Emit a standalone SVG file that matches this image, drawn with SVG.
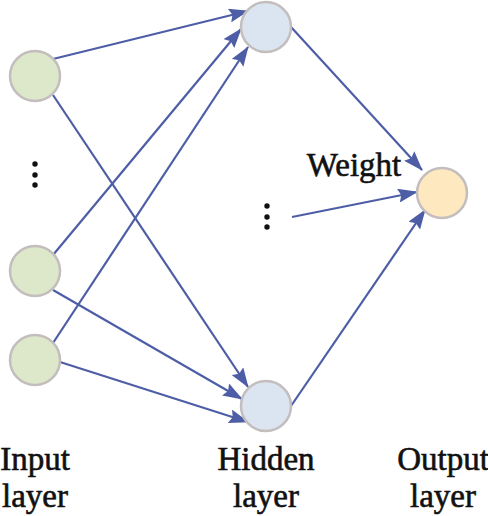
<svg xmlns="http://www.w3.org/2000/svg" width="488" height="516" viewBox="0 0 488 516">
<style>
.node{stroke:#c3bebd;stroke-width:2.5}
.in{fill:#dde8cb}
.hid{fill:#dbe5f1}
.out{fill:#fde8c0}
.edge{stroke:#4e5ea6;stroke-width:2.2;fill:none;marker-end:url(#ah)}
.lbl{font-family:"Liberation Serif","Times New Roman",serif;font-size:33px;fill:#111;stroke:#111;stroke-width:0.6}
.dot{fill:#111}
</style>
<defs>
<marker id="ah" viewBox="0 0 20 14" refX="19" refY="7" markerWidth="20" markerHeight="14" markerUnits="userSpaceOnUse" orient="auto">
<path d="M0,0 L20,7 L0,14 L3,7 Z" fill="#4e5ea6"/>
</marker>
</defs>
<rect width="488" height="516" fill="#fff"/>
<g id="connectors">
<line class="edge" x1="53" y1="59" x2="248" y2="11"/>
<line class="edge" x1="53" y1="95" x2="248" y2="387"/>
<line class="edge" x1="53" y1="255" x2="241" y2="29"/>
<line class="edge" x1="53" y1="343" x2="248" y2="47"/>
<line class="edge" x1="53" y1="290" x2="242" y2="399"/>
<line class="edge" x1="60" y1="362" x2="248" y2="422"/>
<line class="edge" x1="291" y1="27" x2="422" y2="170"/>
<line class="edge" x1="292" y1="217" x2="417" y2="192"/>
<line class="edge" x1="291" y1="406" x2="425" y2="210"/>
</g>
<g id="input1"><circle class="node in" cx="35" cy="76" r="25"/></g>
<g id="input2"><circle class="node in" cx="35" cy="271" r="25"/></g>
<g id="input3"><circle class="node in" cx="35" cy="360" r="25"/></g>
<g id="input-dots"><circle class="dot" cx="35" cy="164" r="2.7"/><circle class="dot" cx="35" cy="175" r="2.7"/><circle class="dot" cx="35" cy="185" r="2.7"/></g>
<g id="hidden1"><circle class="node hid" cx="266" cy="27" r="25"/></g>
<g id="hidden2"><circle class="node hid" cx="266" cy="406" r="25"/></g>
<g id="hidden-dots"><circle class="dot" cx="267" cy="206" r="2.7"/><circle class="dot" cx="267" cy="217" r="2.7"/><circle class="dot" cx="267" cy="227" r="2.7"/></g>
<g id="output"><circle class="node out" cx="442" cy="193" r="25"/></g>
<g id="labels">
<text class="lbl" x="354" y="176" text-anchor="middle">Weight</text>
<text class="lbl" x="35" y="470" text-anchor="middle">Input</text>
<text class="lbl" x="35" y="507" text-anchor="middle">layer</text>
<text class="lbl" x="266" y="470" text-anchor="middle">Hidden</text>
<text class="lbl" x="266" y="507" text-anchor="middle">layer</text>
<text class="lbl" x="443" y="470" text-anchor="middle">Output</text>
<text class="lbl" x="443" y="507" text-anchor="middle">layer</text>
</g>
</svg>
